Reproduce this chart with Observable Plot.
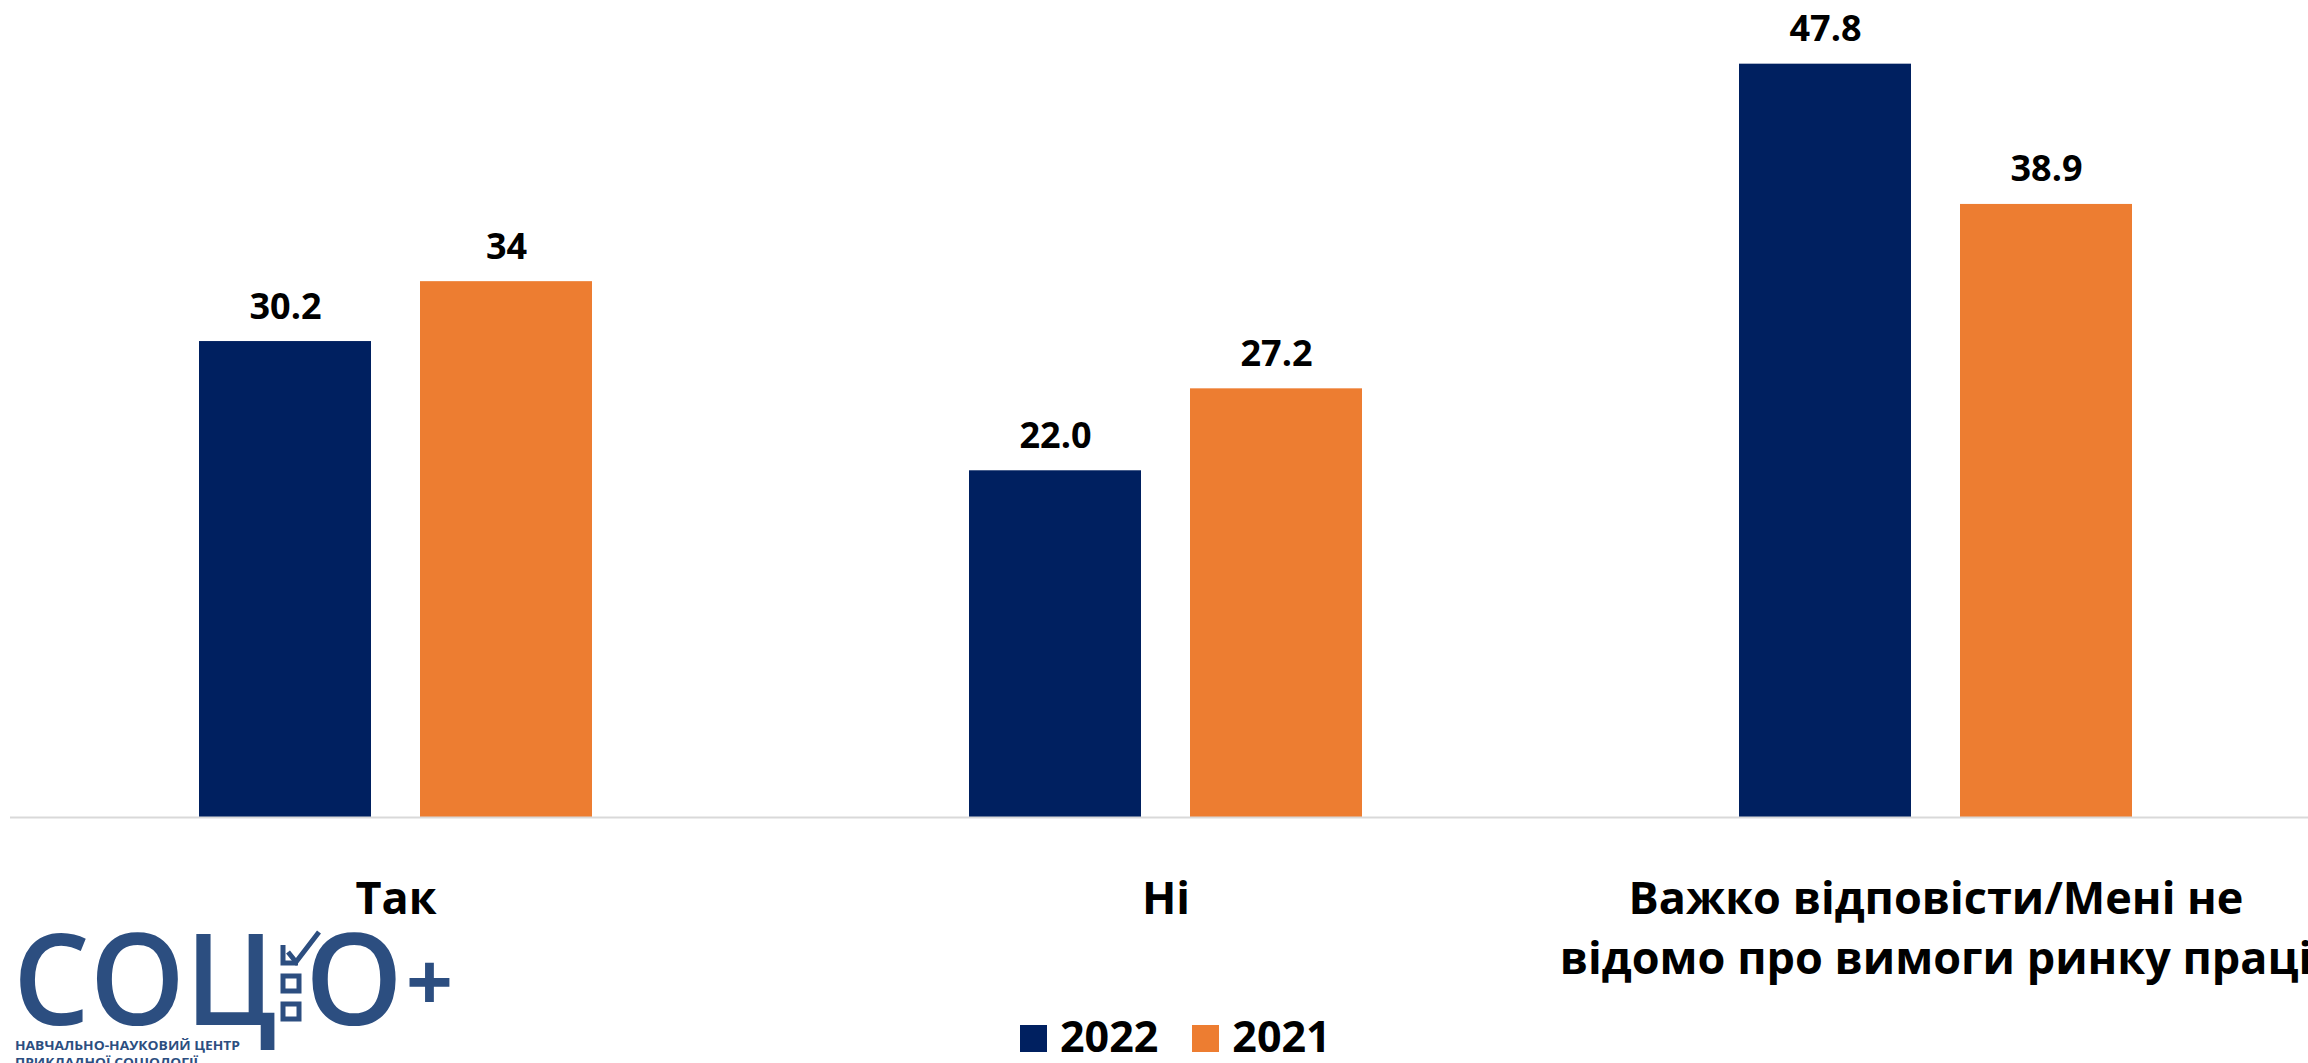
<!DOCTYPE html>
<html>
<head>
<meta charset="utf-8">
<script src="https://cdn.jsdelivr.net/npm/d3@7"></script>
<script src="https://cdn.jsdelivr.net/npm/@observablehq/plot@0.6"></script>
<style>
  html, body { margin: 0; padding: 0; background: #ffffff; overflow: hidden; width: 2308px; height: 1063px; }
  #wrap { position: relative; width: 2308px; height: 1063px; }
  #chart { position: absolute; left: 0; top: 0; }
  #legend { position: absolute; left: 1020px; top: 1014px; height: 44px; display: flex; align-items: center;
            font-family: "Open Sans", sans-serif; font-weight: 700; font-size: 43px; color: #000; }
  #legend .sw { width: 27px; height: 27px; margin-right: 13px; margin-top: 5px; }
  #legend .lb { line-height: 44px; margin-right: 34px; }
  #logo { position: absolute; left: 0; top: 880px; }
</style>
</head>
<body>
<div id="wrap">
  <div id="chart"></div>
  <div id="legend"></div>
  <svg id="logo" width="470" height="183" viewBox="0 0 470 183"></svg>
</div>
<script>
// ---- data ----
const categories = ["Так", "Ні", "Важко відповісти/Мені не\nвідомо про вимоги ринку праці"];
const years = ["2022", "2021"];
const values2022 = [30.2, 22.0, 47.8];
const values2021 = [34, 27.2, 38.9];
const labels2022 = ["30.2", "22.0", "47.8"];
const labels2021 = ["34", "27.2", "38.9"];
const colors = ["#002060", "#ED7D31"];

const rows = [];
categories.forEach((c, i) => {
  rows.push({category: c, year: years[0], value: values2022[i], label: labels2022[i]});
  rows.push({category: c, year: years[1], value: values2021[i], label: labels2021[i]});
});

// within each category band: two bars with a gap between them
const barGap = 221;    // offset of the second bar inside the band (px)
const labelShift = 110.5;

const is2022 = d => d.year === years[0];
const is2021 = d => d.year === years[1];

const chart = Plot.plot({
  width: 2308,
  height: 1000,
  marginLeft: 10,
  marginRight: -13,
  marginTop: 29,
  marginBottom: 183,
  style: {fontFamily: "'Open Sans', sans-serif", background: "white", overflow: "visible", color: "#000"},
  x: {domain: categories, paddingInner: 0.49, paddingOuter: 0.245, label: null},
  y: {domain: [0, 50], axis: null},
  color: {domain: years, range: colors},
  marks: [
    Plot.barY(rows, {filter: is2022, x: "category", y: "value", fill: "year", insetRight: barGap}),
    Plot.barY(rows, {filter: is2021, x: "category", y: "value", fill: "year", insetLeft: barGap}),
    Plot.text(rows, {filter: is2022, x: "category", y: "value", text: "label", dx: -labelShift, dy: -23,
                     lineAnchor: "bottom", fontSize: 36, fontWeight: 700, fill: "#000"}),
    Plot.text(rows, {filter: is2021, x: "category", y: "value", text: "label", dx: labelShift, dy: -23,
                     lineAnchor: "bottom", fontSize: 36, fontWeight: 700, fill: "#000"}),
    Plot.ruleY([0], {stroke: "#d9d9d9", strokeWidth: 2}),
    Plot.axisX({anchor: "bottom", tickSize: 0, tickPadding: 54, fontSize: 45, fontWeight: 700,
                lineHeight: 1.33, fill: "#000", label: null})
  ]
});
document.getElementById("chart").appendChild(chart);

// ---- legend ----
const legend = document.getElementById("legend");
years.forEach((y, i) => {
  const sw = document.createElement("div");
  sw.className = "sw";
  sw.style.background = colors[i];
  const lb = document.createElement("div");
  lb.className = "lb";
  lb.textContent = y;
  legend.appendChild(sw);
  legend.appendChild(lb);
});

// ---- logo ----
const logoColor = "#2c4e80";
const logo = d3.select("#logo");
const oy = 30; // vertical offset inside the logo svg
logo.append("text").attr("x", 13).attr("y", 115 + oy).attr("font-family", "'Open Sans', sans-serif")
  .attr("font-size", 126).attr("font-weight", 600).attr("fill", logoColor)
  .attr("textLength", 264).attr("lengthAdjust", "spacingAndGlyphs").text("СОЦ");
logo.append("path").attr("d", `M283 ${35 + oy} V${53 + oy} H298`).attr("fill", "none").attr("stroke", logoColor).attr("stroke-width", 5);
logo.append("path").attr("d", `M288 ${42 + oy} L296 ${52 + oy} L319 ${22 + oy}`).attr("fill", "none").attr("stroke", logoColor).attr("stroke-width", 5);
logo.append("rect").attr("x", 283).attr("y", 66 + oy).attr("width", 16).attr("height", 15).attr("fill", "none").attr("stroke", logoColor).attr("stroke-width", 5);
logo.append("rect").attr("x", 283).attr("y", 94 + oy).attr("width", 16).attr("height", 15).attr("fill", "none").attr("stroke", logoColor).attr("stroke-width", 5);
logo.append("text").attr("x", 305).attr("y", 115 + oy).attr("font-family", "'Open Sans', sans-serif")
  .attr("font-size", 126).attr("font-weight", 600).attr("fill", logoColor)
  .attr("textLength", 98).attr("lengthAdjust", "spacingAndGlyphs").text("О");
logo.append("text").attr("x", 406).attr("y", 101 + oy).attr("font-family", "'Open Sans', sans-serif")
  .attr("font-size", 80).attr("font-weight", 700).attr("fill", logoColor)
  .attr("textLength", 47).attr("lengthAdjust", "spacingAndGlyphs").text("+");
logo.append("text").attr("x", 15).attr("y", 140 + oy).attr("font-family", "'Open Sans', sans-serif")
  .attr("font-size", 12).attr("font-weight", 700).attr("fill", logoColor)
  .attr("textLength", 225).attr("lengthAdjust", "spacingAndGlyphs").text("НАВЧАЛЬНО-НАУКОВИЙ ЦЕНТР");
logo.append("text").attr("x", 15).attr("y", 157 + oy).attr("font-family", "'Open Sans', sans-serif")
  .attr("font-size", 12).attr("font-weight", 700).attr("fill", logoColor)
  .attr("textLength", 183).attr("lengthAdjust", "spacingAndGlyphs").text("ПРИКЛАДНОЇ СОЦІОЛОГІЇ");
</script>
</body>
</html>
